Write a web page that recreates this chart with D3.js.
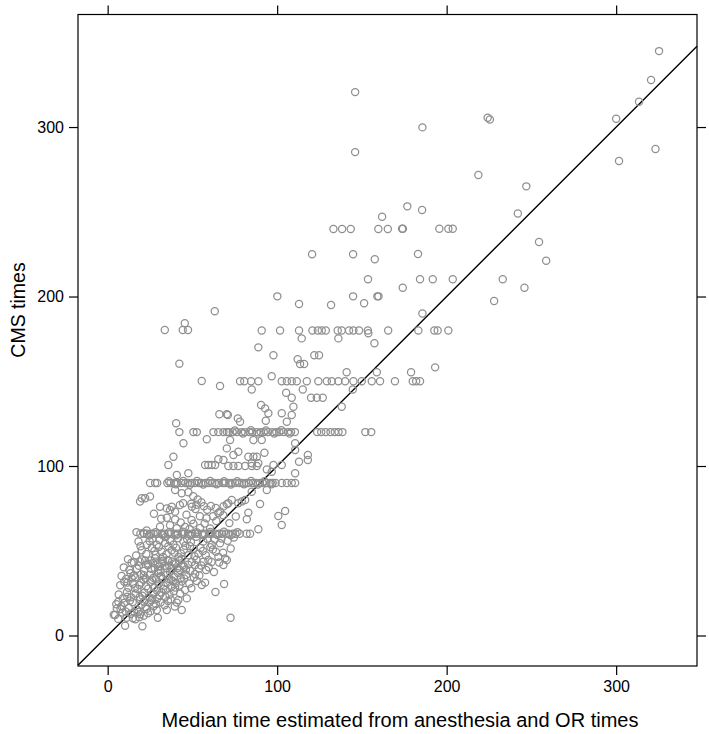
<!DOCTYPE html>
<html>
<head>
<meta charset="utf-8">
<script src="https://cdn.jsdelivr.net/npm/d3@7"></script>
<style>
  html, body { margin: 0; padding: 0; background: #fff; }
  svg { display: block; font-family: "Liberation Sans", Arial, Helvetica, sans-serif; }
</style>
</head>
<body>
<svg id="chart" width="709" height="734"></svg>
<script>
// ---- data ----
const xTickValues = [0, 100, 200, 300];
const yTickValues = [0, 100, 200, 300];
const xTitle = "Median time estimated from anesthesia and OR times";
const yTitle = "CMS times";

// [median time estimated, CMS time]
const upperPoints = [
  [325.3,344.8],[320.6,327.8],[313.5,314.9],[300,304.9],[323.2,287],[301.7,280],[254.5,232.2],[258.7,221.1],
  [185.7,299.8],[224.2,305.5],[225.5,304.5],[218.7,271.7],[146,320.6],[146,285.2],
  [247,265],[176.8,253.2],[185.5,251],[242,249],[173.7,240],[174.2,240],[195.7,240],[201,240],[203.6,240],
  [183.1,225.1],[184.3,210.2],[191.8,210.2],[203.6,210.2],[233.1,210.2],[174.1,205.2],[245.9,205.2],[228,197.3],
  [161.9,247.1],[133.2,239.8],[138.3,239.8],[143.4,239.8],[159.7,239.8],[165.3,239.8],
  [120.6,225],[144.8,225],[157.6,222],[153.6,210.2],[100.1,200.1],[144.8,200.1],[159.1,200.1],[159.8,200.1],
  [112.9,195.6],[131.8,195],[151.3,196],[185.7,190],
  [63.2,191.3],[33.7,180.2],[45.5,184.2],[44.3,180.2],[47.4,180.2],[42.3,160.4],[55.5,150.1],[66.3,147.2],
  [65.9,130.5],[70.3,130.5],[40.4,125.2]
];
const band180 = [
  [90.9,180],[101.7,180],[112.9,180],[120.8,180],[124,180],[126.3,180],[128.7,180],[135.7,180],[138.1,180],
  [142.4,180],[145,180],[148.3,180],[153.5,180],[165.5,180],[183.3,180],[192.7,180],[194.7,180],[201,180]
];
const midPoints = [
  [114.5,175.3],[136.1,175.3],[153.8,178.3],[157.4,172.4],[88.9,170],[97.8,165.3],[121.9,165.3],[124.7,165.3],
  [112.1,163],[113.5,160.2],[115.9,160.2],[141,155.3],[158.8,155.3],[193.2,158.2],[179,155.3],
  [85,145.2],[105.3,143.2],[144.6,145.2],[115.1,145.2],[108.6,140.3],[120,140.3],[123.4,140.3],[126.9,140.3],
  [138.1,135],[90.5,136],[92.9,134],[94.8,131.1],[109.6,135],[108.6,130.1],[102.7,131.1],[105.7,126.1],
  [70.9,130.1],[76.8,128.1],[78.1,126.1],[93.3,126.7],[96.8,153]
];
const band150 = [
  [78.1,150],[80.6,150],[84.6,150],[88.9,150],[102.7,150],[105.7,150],[108.6,150],[111.6,150],[117.5,150],
  [124.3,150],[129.3,150],[132.2,150],[136.1,150],[140.1,150],[145,150],[149.9,150],[155.8,150],[160.7,150],
  [169.5,150],[180,150],[182,150],[184.3,150]
];
const band120 = [
  [42.3,120],[50.6,120],[52.6,120],[62.4,120],[65.3,120],[68.3,120],[70.3,120],
  [71.5,120],[73.8,120],[76.2,120],[78.9,120],[81,120],[83.6,120],[85.4,120],[87.9,120],[90.3,120],[92.1,120],
  [94.6,120],[97.2,120],[99.5,120],[101.3,120],[103.8,120],[106.4,120],[108.2,120],[110.5,120],
  [123.6,120],[126,120],[128.7,120],[131.5,120],[134,120],[136.2,120],[138.5,120],[152,120],[155.5,120],
  [75,121],[79.8,119.2],[84.5,121.1],[89.1,119.1],[93.4,121],[98.3,119.2],[102.5,121.1],[107.3,119.1]
];
const lowerMidPoints = [
  [72.2,115.3],[77.1,108.4],[74.2,106.5],[86,115.3],[90.9,115.3],[92.5,107.8],[110.6,113.4],[110.6,109.4],
  [118.1,106.5],[118.1,103.5],[112.9,102.5],[83,105.5],[86,105.5],[88,105.5],[85,101.6],[88.9,101.6],
  [71.2,100],[74.2,100],[77.1,100],[81.1,100],[85,100],[88,100],[93.9,98],[97.8,100.6],[102.7,100.6],
  [110.6,95.7],[96.8,96.6],
  [44.7,113.4],[58.5,115.8],[70.3,110.4],[38.8,105.5],[35.8,100.6],[57.5,100.6],[59.4,100.6],[61.4,100.6],
  [63.4,100.6],[65.3,104],[68.3,103.5],[40.8,94.7],[47.6,95.7]
];
const band90 = [
  [25,90],[28,90],[29.2,90],
  [35.2,90],[37.1,90],[39.3,90],[41.2,90],[43.5,90],[45.8,90],[47.3,90],[49.6,90],[51.4,90],[53.8,90],
  [55.2,90],[57.6,90],[59.3,90],[61.7,90],[63.2,90],[65.5,90],[67.9,90],[69.4,90],[71.8,90],[73.5,90],
  [75.2,90],[77.6,90],[79.3,90],[81.8,90],[83.2,90],[85.7,90],[87.5,90],[89.8,90],[91.4,90],[93.6,90],
  [95.9,90],[97.4,90],[99.1,90],[102.7,90],[105.7,90],[108.6,90],[110.6,90],
  [36.1,91],[40.2,89.2],[44.6,91.1],[48.5,89],[52.7,91.1],[56.4,89.1],[60.5,91.2],[64.3,89.2],[68.7,91],
  [72.6,89.1],[76.4,91],[80.5,89.2],[84.6,91.1],[88.6,89.1],[92.5,91],[96.7,89.2]
];
const band60to90 = [
  [93.9,85.8],[85,84.8],[89.9,77.6],[81.1,80],[79.1,79],[77.1,78],[73.2,80],[71.2,78],[83,72.5],[82.1,68.6],
  [104.7,73.5],[100.7,70.5],[102.7,65.2],
  [39.8,85.8],[43.7,83.9],[47.6,84.5],[50.5,82.1],[53.1,80.2],[55.3,78.6],[49.3,77.8],[52.4,77.1],
  [19.1,79],[20.1,81],[22.1,81],[25,82],[30.9,76],[34.9,75],[36.8,74],[37.8,76],[39.8,73],
  [42.6,77],[44.5,78],[49.7,76],[51.8,74.6],[56.8,76.3],[58.7,74.2],[60.9,76.4],[63.8,75.3],[66.4,73.1],
  [68.4,76.2],[70.3,77.5],
  [34.9,69.5],[39.8,68.4],[46.5,71.3],[49.5,68.2],[54.4,70.3],[58.3,69.2],[62.2,70.4],[65.3,72.3],[68.2,71],
  [30.9,64.2],[36.8,65.1],[40.8,63.3],[45.7,64],[50.6,66],[54.5,63.4],[88.9,62.7],
  [27.3,71.8],[31.6,68.9],[43.1,66.7],[48.3,62.8],[57.2,66.1],[60.4,63.2],[64.1,67.5],[71.8,66.3],[75.6,70.2]
];
const band60 = [
  [17,61],[21,60.5],[23,62],
  [19.3,60],[21.5,60],[23.2,60],[25.6,60],[27.1,60],[29.4,60],[31.8,60],[33.5,60],[35.7,60],[37.2,60],
  [39.6,60],[41.3,60],[43.8,60],[45.2,60],[47.5,60],[49.9,60],[51.6,60],[53.1,60],[55.7,60],[57.3,60],
  [59.8,60],[61.2,60],[63.6,60],[65.9,60],[67.4,60],[69.8,60],[71.3,60],[73.7,60],[75.4,60],[77.9,60],
  [82,60],[84,60],
  [24.4,59],[28.3,61],[32.6,59.2],[36.4,61.1],[40.5,59.1],[44.4,61.2],[48.6,59.3],[52.4,61],[56.5,59.1],
  [60.5,61.1],[64.7,59.3],[68.6,61.2],[72.5,59.1],[76.6,61]
];
const lowPoints = [
  [18.2,55.4],[23.1,53.5],[26.1,51.6],[29,53.5],[33.9,54.5],[35.8,52.6],[38.8,53.5],[44.7,55.4],[48.6,52.6],
  [56.4,55.4],[61.4,53.5],[66.3,54.4],
  [26.4,57.2],[30.6,56.3],[34.2,58.1],[41.5,57.4],[46.9,56.8],[52.3,58.3],[58.7,57.1],[63.2,56.6],[70.8,55.9],
  [74.5,57.8],
  [20.1,50.3],[31.9,49.4],[37.8,50.3],[41.8,46.4],[47.7,47.3],[53.5,48.3],[59.4,44.5],[65.3,46.4],[69.3,45.5],
  [22.8,48.1],[28.3,47.6],[34.7,47.9],[39.5,48.8],[44.9,50.6],[50.7,51.2],[56.2,49.8],[62.1,50.7],[68.1,48.9],
  [72.6,51.3],
  [16.8,47.2],[19.4,52.6],[24.7,55.8],[27.6,49.9],[30.2,52.2],[32.7,46.3],[36.9,55.7],[40.3,51.8],[43.2,48.4],
  [45.8,52.9],[49.1,55.1],[51.2,46.7],[54.8,51.6],[57.9,47.3],[60.6,52.1],[63.9,49.4],[67.2,57.2],
  [12,45],[15.5,43.2],[20.1,44.8],[24,42.3],[27.9,45.6],[31.9,43.1],[35.8,44.2],[39.8,42.7],[43.6,45.1],
  [47.5,41.8],[51.6,41.6],[56.5,43.5],[68.3,41.6],[70.3,44.5],
  [18.4,41.1],[22.1,44.2],[26.8,42.8],[29.9,38.2],[32.5,44.1],[34.9,39.6],[38.1,43.7],[42.3,44.3],[45.1,40.6],
  [48.7,38.2],[52.4,44.7],[55.2,41.3],[58.1,38.6],[61.3,43.4],
  [9.5,40.2],[12.8,38.6],[14.1,42.9],[17.3,39.4],[18.9,43.6],[21.4,38.1],[23.6,41.5],[25.2,44.2],[27.8,39.8],
  [29.5,42.6],[31.2,38.4],[33.7,41.1],[35.4,44.6],[37.9,39.2],[40.1,42.1],[42.6,38.7],[44.3,41.4],
  [25.7,39.3],[30.4,40.7],[36.3,41.3],[41.2,39.7],[46.2,38.9],[49.6,43.4],[53.8,39.6],[59.6,40.2],[62.7,37.5],
  [65.8,43.1],
  [8.2,35.1],[10.9,33.4],[13.5,36.8],[16.2,34.3],[19.7,36.2],[22.4,33.7],[24.9,35.9],[27.1,34.1],[29.8,36.9],
  [32.3,33.5],[34.6,35.7],[36.8,37.5],[39.2,34.6],[41.5,36.8],[43.1,33.9],
  [28.6,33.2],[33.1,29.4],[37.4,32.8],[42.3,29.5],[45.1,33.6],[48.2,30.7],[50.9,34.2],[54.1,35.4],
  [11.7,31.2],[14.2,33.7],[18.6,29.8],[21.3,35.6],[23.9,27.6],[26.2,32.9],[29.1,26.5],[31.5,35.1],[34.3,26.9],
  [36.2,33.4],[39.8,28.3],[43.6,31.8],[46.3,35.7],[49.4,27.9],[52.6,32.1],
  [7.4,29.6],[9.8,31.7],[12.3,28.2],[14.9,30.5],[17.6,27.4],[19.8,31.2],[22.7,29.1],[25.3,31.6],[27.4,28.3],
  [30.1,30.2],[32.8,27.6],[35.2,31.1],[37.6,28.8],[40.3,30.9],[38.4,32.2],[16.1,27.9],[21.1,33.1],[15.3,35.2],
  [6.5,24.2],[8.9,21.8],[11.4,25.6],[13.8,22.5],[16.5,24.8],[19.2,21.3],[21.7,25.2],[24.3,22.6],[26.6,24.9],
  [29.2,21.7],[31.7,25.4],[34.1,22.9],[36.5,24.1],
  [20.5,23.4],[25.9,20.8],[30.7,23.8],[35.6,20.4],[38.9,26.1],[42.8,24.6],[11.6,22.9],
  [5.1,18.4],[7.6,15.6],[9.9,19.3],[12.4,16.2],[14.8,19.7],[17.3,15.4],[19.9,18.1],[22.4,16.8],[24.6,19.5],
  [27.1,17.2],
  [8.1,17.2],[10.6,14.1],[13.2,20.6],[15.7,13.8],[18.9,22.7],[21.4,19.9],[23.1,15.7],[26.3,21.9],[28.4,18.6],
  [31.2,19.4],[33.6,17.8],[37.2,21.3],[39.6,17.1],[14.9,10.2],[19.1,12.6],[25.4,14.3],
  [3.6,12.3],[6.2,9.8],[8.7,13.5],[11.1,10.4],[13.6,12.8],[16.4,9.6],[18.2,13.9],[21.3,11.6],[23.8,13.1],
  [51.6,36.3],[57.5,31.2],[55.5,29.8],[68.7,30.4],[63.6,25.7],[45.7,26.8],[46.7,21.9],[41.7,20.9],[40.8,19.4],
  [43.7,15],[34.9,15],[29,15],[29.6,10.5],[20.5,5.4],[10.3,5.8],[18.7,10.7],[6.3,19.9],[5.4,16],[4.4,12.1],
  [72.5,10.5]
];

const allPoints = [].concat(upperPoints, band180, midPoints, band150, band120, lowerMidPoints,
  band90, band60to90, band60, lowPoints);

// ---- layout ----
(function () {
  const svg = d3.select("#chart");
  const pLeft = 78, pRight = 697, pTop = 14.5, pBottom = 666;
  const x = d3.scaleLinear().domain([-17.5, 347.7]).range([pLeft, pRight]);
  const y = d3.scaleLinear().domain([-18, 366.4]).range([pBottom, pTop]);
  const tick = 9;
  const labelSize = 16;

  // identity line (drawn below points)
  const lineDomain = [-17.5, 347.7];
  svg.append("line")
    .attr("x1", x(lineDomain[0])).attr("y1", y(lineDomain[0]))
    .attr("x2", x(lineDomain[1])).attr("y2", y(lineDomain[1]))
    .attr("stroke", "#000").attr("stroke-width", 1.4);

  // points
  svg.append("g").selectAll("circle").data(allPoints).join("circle")
    .attr("cx", d => x(d[0])).attr("cy", d => y(d[1])).attr("r", 3.6)
    .attr("fill", "none").attr("stroke", "#8f8f8f").attr("stroke-width", 1.25);

  // panel border
  svg.append("rect").attr("x", pLeft).attr("y", pTop)
    .attr("width", pRight - pLeft).attr("height", pBottom - pTop)
    .attr("fill", "none").attr("stroke", "#000").attr("stroke-width", 1.2);

  function styleAxis(g, showLabels) {
    g.select(".domain").remove();
    g.selectAll(".tick line").attr("stroke", "#000").attr("stroke-width", 1.2);
    g.selectAll(".tick text").attr("fill", "#000")
      .style("font-size", labelSize + "px")
      .style("font-family", '"Liberation Sans", Arial, sans-serif');
    if (!showLabels) g.selectAll(".tick text").remove();
  }

  svg.append("g").attr("transform", `translate(0,${pBottom})`)
    .call(d3.axisBottom(x).tickValues(xTickValues).tickSize(tick).tickPadding(6).tickFormat(d3.format("d")))
    .call(g => styleAxis(g, true));
  svg.append("g").attr("transform", `translate(0,${pTop})`)
    .call(d3.axisTop(x).tickValues(xTickValues).tickSize(tick))
    .call(g => styleAxis(g, false));
  svg.append("g").attr("transform", `translate(${pLeft},0)`)
    .call(d3.axisLeft(y).tickValues(yTickValues).tickSize(tick).tickPadding(5).tickFormat(d3.format("d")))
    .call(g => styleAxis(g, true));
  svg.append("g").attr("transform", `translate(${pRight},0)`)
    .call(d3.axisRight(y).tickValues(yTickValues).tickSize(tick))
    .call(g => styleAxis(g, false));

  // axis titles
  svg.append("text")
    .attr("x", 400).attr("y", 727)
    .attr("text-anchor", "middle").style("font-size", "20px").attr("fill", "#000")
    .text(xTitle);
  svg.append("text")
    .attr("transform", `translate(25,310) rotate(-90)`)
    .attr("text-anchor", "middle").style("font-size", "19.5px").attr("fill", "#000")
    .text(yTitle);
})();
</script>
</body>
</html>
